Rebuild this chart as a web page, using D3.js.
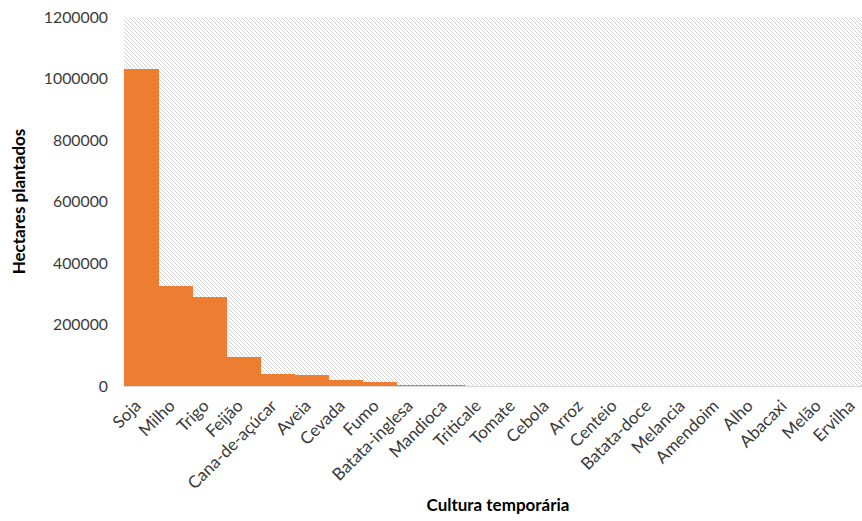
<!DOCTYPE html>
<html><head><meta charset="utf-8">
<script src="https://cdn.jsdelivr.net/npm/d3@7"></script>
<style>
html,body{margin:0;padding:0;background:#fff;overflow:hidden;}
svg{display:block;font-family:Lato, "Open Sans", sans-serif;}
</style></head>
<body>
<svg id="chart" width="862" height="521"></svg>
<script>
const categories = ["Soja","Milho","Trigo","Feijão","Cana-de-açúcar","Aveia","Cevada","Fumo","Batata-inglesa","Mandioca","Triticale","Tomate","Cebola","Arroz","Centeio","Batata-doce","Melancia","Amendoim","Alho","Abacaxi","Melão","Ervilha"];
const hectares = [1030000,326000,290000,93000,39000,35000,19500,14000,4500,4000,1500,900,700,600,500,400,300,250,200,150,100,80];
const yTicks = [0,200000,400000,600000,800000,1000000,1200000];
const xTitle = "Cultura temporária";
const yTitle = "Hectares plantados";

const svg = d3.select("#chart");
const pL = 124, pR = 872, pT = 17, pB = 386;

const defs = svg.append("defs");
const pat = defs.append("pattern").attr("id","hatch").attr("patternUnits","userSpaceOnUse")
  .attr("width",4).attr("height",4);
pat.append("rect").attr("width",4).attr("height",4).attr("fill","#fff");
pat.append("path").attr("d","M-1,-1 L5,5 M-1,3 L1,5 M3,-1 L5,1").attr("stroke","#d2d2d2").attr("stroke-width",1);

const x = d3.scaleBand().domain(categories).range([pL,pR]).padding(0);
const y = d3.scaleLinear().domain([0,1200000]).range([pB,pT]);

svg.append("rect").attr("x",pL).attr("y",pT).attr("width",pR-pL).attr("height",pB-pT).attr("fill","url(#hatch)");

svg.append("g").attr("shape-rendering","crispEdges").selectAll("rect").data(categories).join("rect")
  .attr("x",d=>x(d)).attr("width",x.bandwidth()+0.5)
  .attr("y",(d,i)=>y(hectares[i])).attr("height",(d,i)=>pB-y(hectares[i]))
  .attr("fill","#ED7D31");

svg.append("line").attr("x1",pL).attr("x2",pR).attr("y1",pB+0.5).attr("y2",pB+0.5)
  .attr("stroke","#d9d9d9").attr("stroke-width",1);

// y axis
const yAxis = svg.append("g").attr("transform",`translate(${pL},0)`)
  .call(d3.axisLeft(y).tickValues(yTicks).tickFormat(d3.format("d")).tickSize(0).tickPadding(16));
yAxis.select(".domain").remove();
yAxis.selectAll("text").attr("font-size","15.8px").attr("fill","#3a3a3a").attr("font-family","Lato, sans-serif");

// x axis
const xAxis = svg.append("g").attr("transform",`translate(0,${pB})`)
  .call(d3.axisBottom(x).tickSize(0).tickPadding(0));
xAxis.select(".domain").remove();
xAxis.selectAll("text")
  .attr("font-size","17px").attr("fill","#3a3a3a").attr("font-family","Lato, sans-serif")
  .attr("text-anchor","end").attr("dy",0).attr("y",0)
  .attr("transform","translate(1,21) rotate(-45)");

svg.append("text").attr("x",(pL+pR)/2).attr("y",511).attr("text-anchor","middle")
  .attr("font-weight","bold").attr("font-size","17px").attr("fill","#000").text(xTitle);
svg.append("text").attr("transform",`translate(25,${(pT+pB)/2}) rotate(-90)`).attr("text-anchor","middle")
  .attr("font-weight","bold").attr("font-size","17px").attr("fill","#000").text(yTitle);
</script>
</body></html>
